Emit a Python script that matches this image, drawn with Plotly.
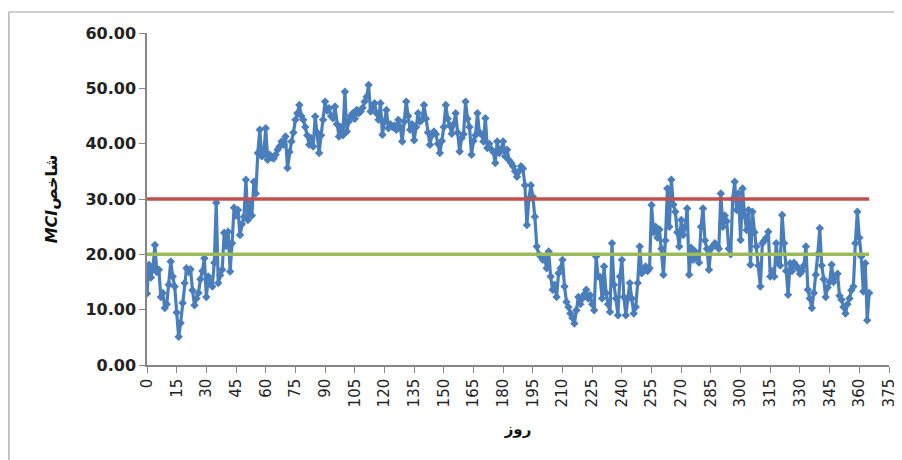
import plotly.graph_objects as go

days = list(range(0, 366))

mci = [
    12.9, 18.1, 15.8, 17.5, 21.7, 16.8, 17.2, 12.3, 13.0, 10.3,
    11.0, 14.5, 18.7, 16.0, 14.2, 9.5, 5.1, 7.6, 11.2, 14.8,
    17.5, 16.8, 17.3, 13.5, 10.8, 12.0, 13.0, 15.5, 17.0, 19.3,
    12.3, 16.0, 15.0, 14.2, 18.5, 29.3, 14.8, 16.2, 17.2, 23.9,
    21.5, 24.1, 16.9, 22.0, 28.4, 27.0, 28.0, 23.5, 25.5, 26.8,
    33.5, 26.2, 29.5, 27.0, 33.1, 31.0, 38.3, 42.5, 37.7, 38.0,
    42.8, 37.1, 38.0, 37.5, 37.3, 38.0, 38.9, 39.5, 40.4, 39.8,
    41.3, 35.6, 38.5, 40.4, 42.0, 44.3, 45.5, 47.0, 45.0, 44.3,
    43.0, 41.5, 39.8, 41.0, 39.5, 44.9, 42.0, 38.3, 41.5, 44.3,
    47.6, 46.0, 46.4, 45.0, 44.6, 46.7, 43.5, 41.3, 43.0, 41.5,
    49.4, 42.2, 44.0, 45.0, 45.5, 44.5, 46.1, 45.5, 45.8, 46.5,
    47.6, 48.5, 50.6, 45.8, 46.5, 47.3, 45.5, 44.3, 47.3, 41.6,
    44.0, 46.1, 42.8, 43.5, 43.0, 43.3, 42.5, 44.3, 43.0, 40.4,
    44.0, 47.6, 45.0, 42.5, 43.5, 40.6, 43.0, 45.5, 44.0, 44.3,
    47.0, 44.5, 42.0, 39.8, 41.5, 42.2, 41.7, 40.0, 38.3, 40.5,
    43.0, 47.0, 44.5, 43.3, 41.8, 43.5, 45.5, 42.0, 38.6, 41.0,
    41.7, 47.6, 44.5, 43.0, 38.0, 40.5, 41.5, 45.5, 42.0, 41.7,
    40.4, 44.6, 39.2, 40.0, 39.0, 38.5, 36.5, 40.4, 38.3, 39.0,
    40.4, 37.7, 38.9, 37.0, 36.5, 35.9, 35.0, 34.0, 35.0, 35.9,
    35.5, 32.5, 25.3, 30.0, 32.5, 30.4, 26.8, 21.4, 20.0, 19.6,
    19.0, 19.2, 17.5, 20.5, 16.0, 13.6, 14.5, 12.3, 16.6, 17.5,
    19.0, 14.2, 11.4, 10.5, 9.3, 8.5, 7.5, 9.9, 12.3, 11.0,
    12.0, 12.8, 13.6, 12.0, 12.6, 11.0, 9.9, 19.6, 16.0, 15.9,
    12.0, 17.8, 13.0, 11.0, 9.6, 22.0, 14.5, 12.0, 9.0, 16.0,
    19.0, 12.3, 9.0, 12.0, 14.8, 12.0, 9.3, 10.5, 14.8, 21.4,
    16.6, 17.0, 17.8, 17.0, 17.5, 28.9, 24.0, 25.0, 23.0, 24.5,
    21.0, 16.3, 22.5, 31.9, 25.0, 33.5, 29.0, 27.7, 24.0, 21.4,
    26.2, 23.5, 25.0, 28.3, 16.3, 21.2, 19.0, 20.5, 19.5, 18.5,
    25.0, 28.3, 22.5, 21.0, 17.2, 21.0, 21.5, 22.0, 21.5, 21.0,
    31.0, 25.0, 27.0, 26.0, 21.0, 20.0, 30.0, 33.1, 28.0, 31.0,
    22.6, 31.9, 27.0, 24.4, 28.0, 18.1, 27.7, 24.0, 21.4, 18.0,
    14.2, 22.0, 22.5, 23.0, 24.1, 16.0, 17.0, 16.0, 22.0, 18.5,
    18.0, 27.1, 22.0, 17.0, 12.7, 18.4, 17.0, 18.5, 18.0, 17.5,
    16.5, 17.0, 18.0, 21.4, 13.6, 12.0, 10.3, 13.0, 16.3, 20.0,
    24.7, 18.0, 15.5, 12.3, 14.0, 15.0, 18.1, 15.0, 16.0, 16.5,
    12.5, 11.8, 10.5, 9.3, 11.0, 12.0, 13.5, 14.2, 22.0, 27.7,
    23.0, 19.6, 13.3, 18.4, 8.1, 13.0,
]

upper_limit = [30.0] * len(days)
lower_limit = [20.0] * len(days)

x_ticks = list(range(0, 376, 15))
y_ticks = [0, 10, 20, 30, 40, 50, 60]

fig = go.Figure()

fig.add_trace(go.Scatter(
    x=days, y=mci, mode="lines+markers",
    line=dict(color="#4A7EBB", width=3.2),
    marker=dict(symbol="diamond", size=6.5, color="#4A7EBB"),
    showlegend=False,
))
fig.add_trace(go.Scatter(
    x=days, y=upper_limit, mode="lines",
    line=dict(color="#C0504D", width=3.5), showlegend=False,
))
fig.add_trace(go.Scatter(
    x=days, y=lower_limit, mode="lines",
    line=dict(color="#9BBB59", width=3.5), showlegend=False,
))

# page body has an 8px margin, so the figure is sized to fit the window
fig.update_layout(
    width=890, height=452,
    margin=dict(l=139, r=9, t=25, b=95),
    paper_bgcolor="white", plot_bgcolor="white",
    font=dict(family="DejaVu Sans", color="#222222"),
    shapes=[
        dict(type="line", xref="paper", yref="paper",
             x0=-0.1863, x1=-0.1863, y0=-0.4, y1=1.0633,
             line=dict(color="#BFBFBF", width=2)),
        dict(type="line", xref="paper", yref="paper",
             x0=-0.1863, x1=1.05, y0=1.0633, y1=1.0633,
             line=dict(color="#BFBFBF", width=1.5)),
    ],
)

fig.update_xaxes(
    range=[0, 375], tickmode="array", tickvals=x_ticks,
    ticktext=[str(v) for v in x_ticks], tickangle=-90,
    ticklabeloverflow="allow", automargin=False,
    tickfont=dict(size=15, color="#222222", family="DejaVu Sans"),
    showline=True, linecolor="#868686", linewidth=1.5,
    ticks="outside", ticklen=6, tickcolor="#868686",
    showgrid=False, zeroline=False,
    title=dict(text="<b>روز</b>", font=dict(size=15, color="#111111"), standoff=17),
)
fig.update_yaxes(
    range=[0, 60], tickmode="array", tickvals=y_ticks,
    ticktext=[f"{v:.2f}" for v in y_ticks],
    tickfont=dict(size=16, color="#222222", family="DejaVu Sans", weight="bold"),
    showline=True, linecolor="#868686", linewidth=1.5,
    ticks="outside", ticklen=6, tickcolor="#868686",
    showgrid=False, zeroline=False,
    title=dict(text="<b><i>MCI</i></b><b>شاخص</b>", font=dict(size=16, color="#111111"), standoff=24),
)

fig.write_html("out.html")
